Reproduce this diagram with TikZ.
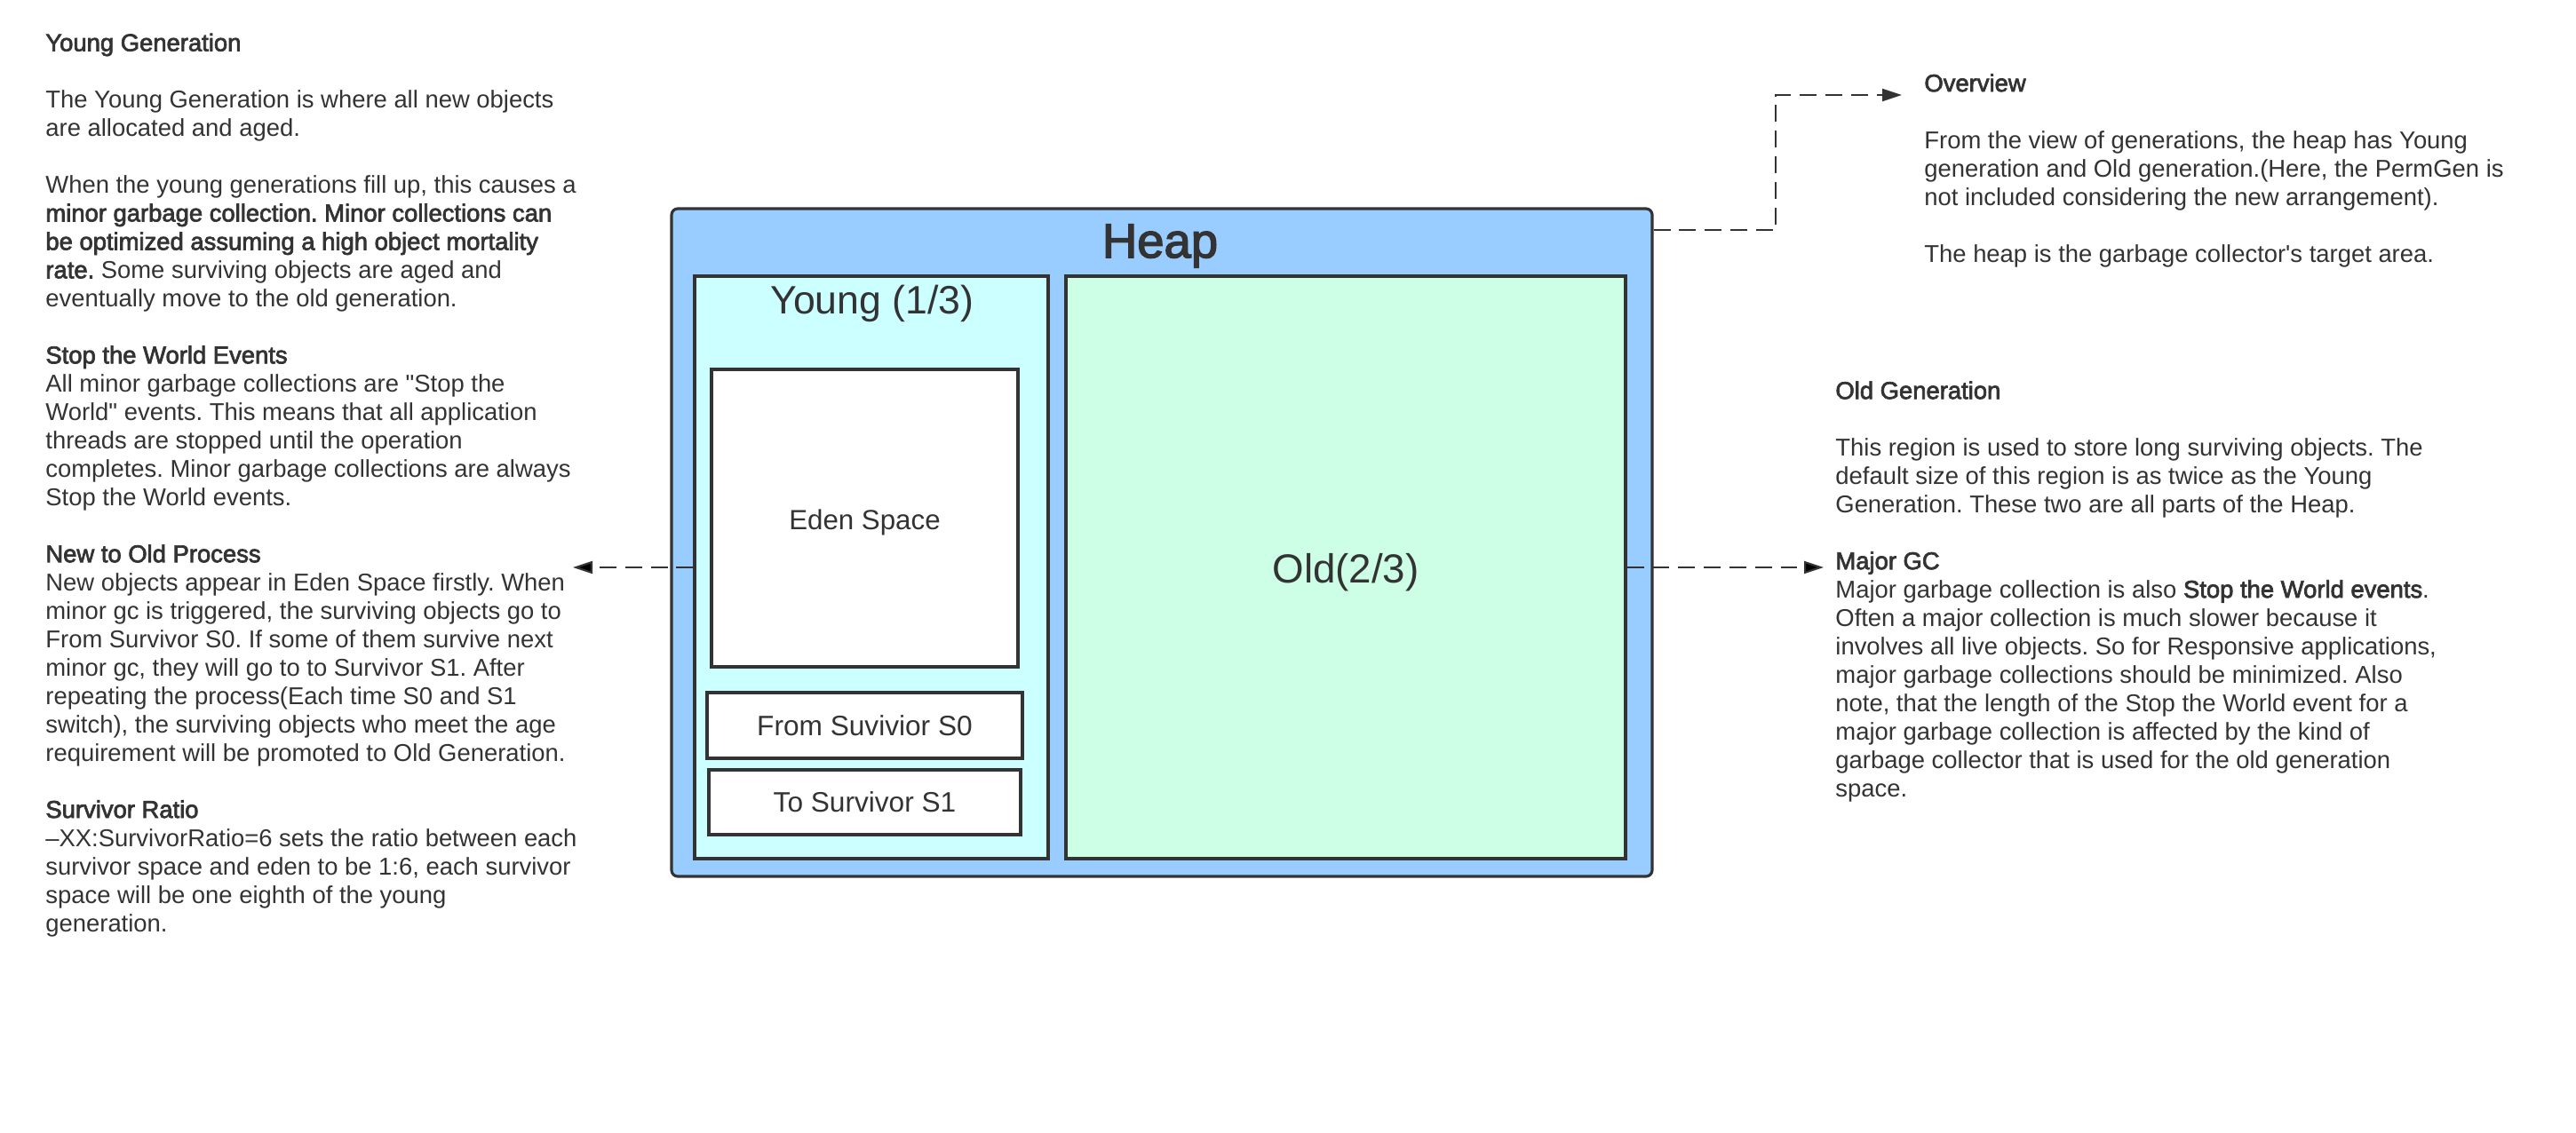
\documentclass[tikz,border=0pt]{standalone}
\usepackage{fontspec}
\setmainfont{Liberation Sans}[BoldFont={Liberation Sans},BoldFeatures={FakeBold=2.6}]
\usetikzlibrary{arrows.meta}
\definecolor{heapblue}{HTML}{99CCFF}
\definecolor{youngcyan}{HTML}{CCFFFF}
\definecolor{oldgreen}{HTML}{CCFFE6}
\definecolor{inkgray}{HTML}{333333}
\frenchspacing

\begin{document}
\begin{tikzpicture}[auto, thick, text=inkgray,
                    space node/.style={rectangle,draw=inkgray,line width=0.9pt,inner sep=0pt},
                    note node/.style={anchor=base west,align=left,inner sep=0pt,font=\fontsize{7.8}{9.1}\selectfont},
                    dash link/.style={draw=inkgray,line width=0.6pt,dash pattern=on 5.4pt off 2.8pt,-{Triangle[length=0.22cm,width=0.14cm]}}]

  \useasboundingbox (0,0) rectangle (29,-12.76);

  \node[space node,fill=heapblue,rounded corners=2pt,minimum width=11.04cm,minimum height=7.52cm] (heap) at (13.08,-6.11) {};
  \node[font=\fontsize{15.5}{18}\selectfont\bfseries] (heaptitle) at (13.06,-2.77) {Heap};
  \node[space node,fill=youngcyan,minimum width=3.98cm,minimum height=6.56cm] (young) at (9.81,-6.39) {};
  \node[font=\fontsize{12.7}{15}\selectfont] (youngtitle) at (9.82,-3.42) {Young (1/3)};
  \node[space node,fill=oldgreen,minimum width=6.30cm,minimum height=6.56cm,text height=12.5pt,text depth=2.7pt,font=\fontsize{13}{15}\selectfont] (old) at (15.15,-6.39) {Old(2/3)};
  \node[space node,fill=white,minimum width=3.45cm,minimum height=3.35cm,text height=9.5pt,text depth=1.9pt,font=\fontsize{8.9}{11}\selectfont] (eden) at (9.735,-5.835) {Eden Space};
  \node[space node,fill=white,minimum width=3.55cm,minimum height=0.74cm,font=\fontsize{9}{11}\selectfont] (s0) at (9.735,-8.17) {From Suvivior S0};
  \node[space node,fill=white,minimum width=3.51cm,minimum height=0.73cm,font=\fontsize{9}{11}\selectfont] (s1) at (9.735,-9.035) {To Survivor S1};

  \node[note node] (youngnote) at (0.50,-10.49) {\textbf{Young Generation}\\[9.1pt]
    The Young Generation is where all new objects\\
    are allocated and aged.\\[9.1pt]
    When the young generations fill up, this causes a\\
    \textbf{minor garbage collection. Minor collections can}\\
    \textbf{be optimized assuming a high object mortality}\\
    \textbf{rate.} Some surviving objects are aged and\\
    eventually move to the old generation.\\[9.1pt]
    \textbf{Stop the World Events}\\
    All minor garbage collections are \textquotedbl Stop the\\
    World\textquotedbl{} events. This means that all application\\
    threads are stopped until the operation\\
    completes. Minor garbage collections are always\\
    Stop the World events.\\[9.1pt]
    \textbf{New to Old Process}\\
    New objects appear in Eden Space firstly. When\\
    minor gc is triggered, the surviving objects go to\\
    From Survivor S0. If some of them survive next\\
    minor gc, they will go to to Survivor S1. After\\
    repeating the process(Each time S0 and S1\\
    switch), the surviving objects who meet the age\\
    requirement will be promoted to Old Generation.\\[9.1pt]
    \textbf{Survivor Ratio}\\
    –XX:SurvivorRatio=6 sets the ratio between each\\
    survivor space and eden to be 1:6, each survivor\\
    space will be one eighth of the young\\
    generation.};

  \node[note node] (overview) at (21.65,-2.95) {\textbf{Overview}\\[9.1pt]
    From the view of generations, the heap has Young\\
    generation and Old generation.(Here, the PermGen is\\
    not included considering the new arrangement).\\[9.1pt]
    The heap is the garbage collector\textquotesingle s target area.};

  \node[note node] (oldnote) at (20.65,-8.97) {\textbf{Old Generation}\\[9.1pt]
    This region is used to store long surviving objects. The\\
    default size of this region is as twice as the Young\\
    Generation. These two are all parts of the Heap.\\[9.1pt]
    \textbf{Major GC}\\
    Major garbage collection is also \textbf{Stop the World events}.\\
    Often a major collection is much slower because it\\
    involves all live objects. So for Responsive applications,\\
    major garbage collections should be minimized. Also\\
    note, that the length of the Stop the World event for a\\
    major garbage collection is affected by the kind of\\
    garbage collector that is used for the old generation\\
    space.};

  \coordinate (newold) at (6.45,-6.39);
  \coordinate (majorgc) at (20.53,-6.39);
  \coordinate (bend) at (19.99,-1.07);
  \coordinate (overtip) at (21.41,-1.07);

  \path[dash link]
      (young) edge (newold)
      (old) edge (majorgc);
  \draw[dash link] ([yshift=-0.26cm]heap.north east) -| (bend) -- (overtip);

\end{tikzpicture}
\end{document}
